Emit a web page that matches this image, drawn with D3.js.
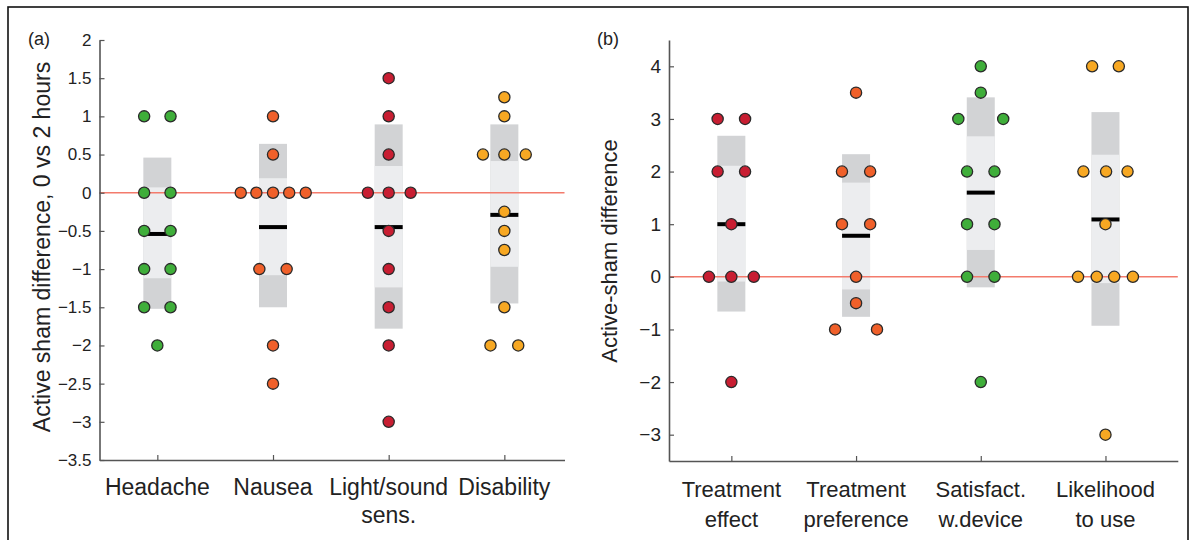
<!DOCTYPE html>
<html>
<head>
<meta charset="utf-8">
<script src="https://cdn.jsdelivr.net/npm/d3@7/dist/d3.min.js"></script>
<style>
  html, body { margin: 0; padding: 0; background: #fff; }
  svg { display: block; font-family: "Liberation Sans", Arial, Helvetica, sans-serif; }
</style>
</head>
<body>
<svg id="chart" width="1195" height="540"></svg>
<script>
// ---------------- DATA ----------------
// Panel (a)
const categoriesA = ["Headache", "Nausea", "Light/sound|sens.", "Disability"];
const valuesA = [
  [1, 1, 0, 0, -0.5, -0.5, -1, -1, -1.5, -1.5, -2],
  [1, 0.5, 0, 0, 0, 0, 0, -1, -1, -2, -2.5],
  [1.5, 1, 0.5, 0, 0, 0, -0.5, -1, -1.5, -2, -3],
  [1.25, 1, 0.5, 0.5, 0.5, -0.25, -0.5, -0.75, -1.5, -2, -2]
];
// horizontal spread of each point around its category (category-axis units)
const jitterA = [
  [-0.114, 0.114, -0.114, 0.114, -0.114, 0.114, -0.114, 0.114, -0.114, 0.114, 0],
  [0, 0, -0.279, -0.144, 0, 0.14, 0.283, -0.118, 0.118, 0, 0],
  [0, 0, 0, -0.18, 0, 0.19, 0, 0, 0, 0, 0],
  [0, 0, -0.185, 0, 0.185, 0, 0, 0, 0, -0.12, 0.12]
];
const meansA = [-0.54, -0.45, -0.45, -0.29];
const ciLowA = [-1.12, -1.08, -1.24, -0.97];
const ciHighA = [0.07, 0.19, 0.35, 0.415];
const sdLowA = [-1.52, -1.5, -1.78, -1.45];
const sdHighA = [0.46, 0.64, 0.895, 0.895];
const ticksA = [-3.5, -3, -2.5, -2, -1.5, -1, -0.5, 0, 0.5, 1, 1.5, 2];

// Panel (b)
const categoriesB = ["Treatment|effect", "Treatment|preference", "Satisfact.|w.device", "Likelihood|to use"];
const valuesB = [
  [3, 3, 2, 2, 1, 0, 0, 0, -2],
  [3.5, 2, 2, 1, 1, 0, -0.5, -1, -1],
  [4, 3.5, 3, 3, 2, 2, 1, 1, 0, 0, -2],
  [4, 4, 2, 2, 2, 1, 0, 0, 0, 0, -3]
];
const jitterB = [
  [-0.11, 0.11, -0.11, 0.11, 0, -0.18, 0, 0.18, 0],
  [0, -0.113, 0.113, -0.113, 0.113, 0, 0, -0.168, 0.168],
  [0, 0, -0.18, 0.18, -0.11, 0.11, -0.11, 0.11, -0.11, 0.11, 0],
  [-0.107, 0.107, -0.177, 0.005, 0.177, 0, -0.22, -0.07, 0.07, 0.22, 0]
];
const meansB = [1.0, 0.78, 1.6, 1.09];
const ciLowB = [-0.09, -0.24, 0.51, -0.12];
const ciHighB = [2.11, 1.79, 2.67, 2.32];
const sdLowB = [-0.66, -0.76, -0.2, -0.93];
const sdHighB = [2.68, 2.33, 3.41, 3.13];
const ticksB = [-3, -2, -1, 0, 1, 2, 3, 4];

// colours per category
const colorsA = ["#3fae3a", "#f0602a", "#c81e32", "#f7a823"];
const colorsB = ["#c81e32", "#f0602a", "#3fae3a", "#f7a823"];

// ---------------- DRAW ----------------
const svg = d3.select("#chart");

// outer frame
svg.append("rect")
  .attr("x", 8).attr("y", 7).attr("width", 1180).attr("height", 545)
  .attr("fill", "none").attr("stroke", "#111").attr("stroke-width", 1.6);

const fmt = v => (v < 0 ? "\u2212" : "") + String(Math.abs(v));

function drawPanel(cfg) {
  const g = svg.append("g");
  const x = d3.scaleLinear().domain([0.5, cfg.xMax]).range(cfg.xRange);
  const y = d3.scaleLinear().domain(cfg.yDomain).range(cfg.yRange);
  const hw = cfg.boxHalf;

  // SD boxes (darker) and CI boxes (lighter)
  cfg.categories.forEach((c, i) => {
    const cx = x(i + 1);
    g.append("rect")
      .attr("x", cx - hw).attr("width", 2 * hw)
      .attr("y", y(cfg.sdHigh[i])).attr("height", y(cfg.sdLow[i]) - y(cfg.sdHigh[i]))
      .attr("fill", "#d2d3d5");
    g.append("rect")
      .attr("x", cx - hw).attr("width", 2 * hw)
      .attr("y", y(cfg.ciHigh[i])).attr("height", y(cfg.ciLow[i]) - y(cfg.ciHigh[i]))
      .attr("fill", "#ecedef");
  });

  // zero line
  g.append("line")
    .attr("x1", x(0.5)).attr("x2", x(cfg.xMax))
    .attr("y1", y(0)).attr("y2", y(0))
    .attr("stroke", "#f37b6c").attr("stroke-width", 1.4);

  // mean bars
  cfg.categories.forEach((c, i) => {
    const cx = x(i + 1);
    g.append("line")
      .attr("x1", cx - hw).attr("x2", cx + hw)
      .attr("y1", y(cfg.means[i])).attr("y2", y(cfg.means[i]))
      .attr("stroke", "#000").attr("stroke-width", 4);
  });

  // points
  cfg.categories.forEach((c, i) => {
    const pts = cfg.values[i].map((v, j) => ({ v, j: cfg.jitter[i][j] }));
    g.selectAll(null).data(pts).enter().append("circle")
      .attr("cx", d => x(i + 1 + d.j))
      .attr("cy", d => y(d.v))
      .attr("r", 5.6)
      .attr("fill", cfg.colors[i])
      .attr("stroke", "#2a2a2a")
      .attr("stroke-width", 1.3);
  });

  // y axis
  const yAxis = d3.axisLeft(y).tickValues(cfg.ticks).tickFormat(fmt)
    .tickSizeInner(-5).tickSizeOuter(0).tickPadding(8);
  const ya = g.append("g").attr("transform", `translate(${cfg.xRange[0]},0)`).call(yAxis);
  ya.select(".domain").attr("stroke", "#555").attr("stroke-width", 1.6);
  ya.selectAll(".tick line").attr("stroke", "#555").attr("stroke-width", 1.2);
  ya.selectAll(".tick text").attr("fill", "#222").attr("font-size", cfg.tickFont)
    .style("font-family", "'Liberation Sans', Arial, sans-serif");

  // x axis
  const xAxis = d3.axisBottom(x).tickValues([1, 2, 3, 4]).tickFormat("")
    .tickSizeInner(-5).tickSizeOuter(0);
  const xa = g.append("g").attr("transform", `translate(0,${cfg.yRange[0]})`).call(xAxis);
  xa.select(".domain").attr("stroke", "#555").attr("stroke-width", 1.6);
  xa.selectAll(".tick line").attr("stroke", "#555").attr("stroke-width", 1.2);

  // category labels
  cfg.categories.forEach((c, i) => {
    const lines = c.split("|");
    const t = g.append("text")
      .attr("x", x(i + 1)).attr("y", cfg.labelY)
      .attr("text-anchor", "middle")
      .attr("font-size", cfg.labelFont).attr("fill", "#222");
    lines.forEach((ln, k) => {
      t.append("tspan").attr("x", x(i + 1)).attr("dy", k === 0 ? 0 : cfg.lineGap).text(ln);
    });
  });

  // y title
  g.append("text")
    .attr("transform", `translate(${cfg.titleX},${cfg.titleY}) rotate(-90)`)
    .attr("text-anchor", "middle").attr("dominant-baseline", "central")
    .attr("font-size", cfg.titleFont).attr("fill", "#222")
    .text(cfg.title);

  // panel letter
  g.append("text")
    .attr("x", cfg.letterX).attr("y", 45)
    .attr("font-size", 18).attr("fill", "#222")
    .text(cfg.letter);
}

drawPanel({
  categories: categoriesA, values: valuesA, jitter: jitterA, colors: colorsA,
  means: meansA, ciLow: ciLowA, ciHigh: ciHighA, sdLow: sdLowA, sdHigh: sdHighA,
  ticks: ticksA,
  xMax: 4.52, xRange: [99.5, 564.5],
  yDomain: [-3.5, 2], yRange: [460, 40],
  boxHalf: 14, tickFont: 17, labelFont: 23, labelY: 495, lineGap: 28,
  title: "Active sham difference, 0 vs 2 hours", titleX: 42, titleY: 247, titleFont: 23,
  letter: "(a)", letterX: 28
});

drawPanel({
  categories: categoriesB, values: valuesB, jitter: jitterB, colors: colorsB,
  means: meansB, ciLow: ciLowB, ciHigh: ciHighB, sdLow: sdLowB, sdHigh: sdHighB,
  ticks: ticksB,
  xMax: 4.58, xRange: [669, 1177.8],
  yDomain: [-3.5, 4.5], yRange: [461, 40],
  boxHalf: 14, tickFont: 19, labelFont: 22, labelY: 497, lineGap: 30,
  title: "Active-sham difference", titleX: 609, titleY: 251, titleFont: 22,
  letter: "(b)", letterX: 597
});
</script>
</body>
</html>
